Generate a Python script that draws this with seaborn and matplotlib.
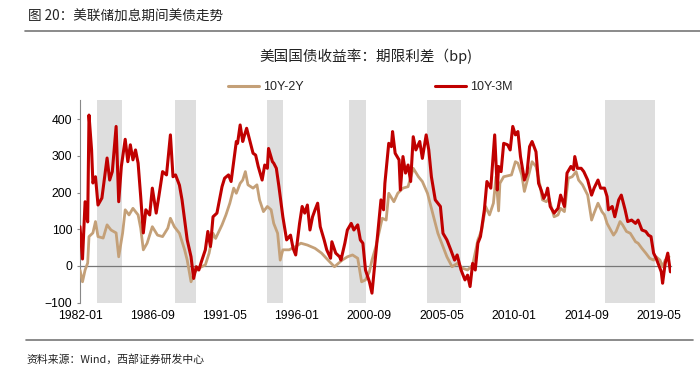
import pandas as pd
import matplotlib
matplotlib.use("Agg")
import matplotlib.pyplot as plt
import seaborn as sns

# 10Y-2Y spread (bp)
s2y_dates = ["1982-01", "1982-03", "1982-05", "1982-07", "1982-08", "1982-11", "1983-01", "1983-03",
             "1983-07", "1983-10", "1984-01", "1984-05", "1984-07", "1984-10", "1984-12", "1985-03",
             "1985-06", "1985-10", "1985-12", "1986-02", "1986-05", "1986-09", "1987-01", "1987-05",
             "1987-09", "1987-11", "1988-02", "1988-06", "1988-10", "1988-12", "1989-03", "1989-06",
             "1989-09", "1990-02", "1990-05", "1990-08", "1990-10", "1991-03", "1991-06", "1991-09",
             "1991-12", "1992-02", "1992-05", "1992-07", "1992-09", "1992-11", "1993-03", "1993-06",
             "1993-08", "1993-11", "1994-02", "1994-05", "1994-07", "1994-10", "1994-12", "1995-02",
             "1995-07", "1995-12", "1996-04", "1996-09", "1997-03", "1997-08", "1998-01", "1998-06",
             "1998-09", "1998-12", "1999-04", "1999-08", "1999-12", "2000-03", "2000-06", "2000-09",
             "2000-11", "2001-02", "2001-05", "2001-07", "2001-10", "2001-12", "2002-04", "2002-07",
             "2002-11", "2003-03", "2003-07", "2003-11", "2004-02", "2004-06", "2004-10", "2005-02",
             "2005-06", "2005-09", "2006-01", "2006-05", "2006-09", "2007-01", "2007-05", "2007-09",
             "2007-12", "2008-03", "2008-06", "2008-09", "2008-11", "2009-01", "2009-02", "2009-05",
             "2009-11", "2010-02", "2010-04", "2010-07", "2010-09", "2010-12", "2011-03", "2011-06",
             "2011-09", "2011-11", "2012-02", "2012-04", "2012-08", "2012-11", "2013-01", "2013-04",
             "2013-07", "2013-10", "2014-01", "2014-03", "2014-06", "2014-10", "2015-01", "2015-03",
             "2015-06", "2015-09", "2015-11", "2016-01", "2016-03", "2016-06", "2016-08", "2016-11",
             "2017-01", "2017-04", "2017-07", "2017-11", "2018-01", "2018-04", "2018-07", "2018-10",
             "2019-01", "2019-03", "2019-06", "2019-08", "2019-10", "2020-01"]
s2y_vals = [-11, -43, -11, 8, 80, 90, 121, 80,
            76, 112, 98, 90, 25, 90, 153, 139,
            157, 139, 103, 44, 62, 107, 84, 80,
            103, 130, 107, 89, 44, 16, -43, -16,
            -6, 3, 35, 89, 75, 112, 139, 171,
            212, 198, 225, 234, 257, 221, 212, 221,
            180, 148, 162, 153, 116, 89, 16, 44,
            44, 53, 62, 57, 48, 35, 16, -2,
            7, 16, 25, 30, 21, -43, -38, -16,
            16, 53, 98, 130, 125, 198, 175, 198,
            212, 216, 266, 243, 230, 198, 144, 89,
            53, 25, -2, 7, -6, -11, 3, 71,
            98, 162, 139, 171, 243, 150, 225, 243,
            248, 284, 280, 248, 203, 243, 284, 271,
            221, 180, 175, 184, 134, 139, 157, 148,
            239, 243, 257, 234, 221, 193, 125, 144,
            171, 148, 139, 116, 103, 84, 94, 121,
            112, 94, 89, 66, 62, 48, 35, 21,
            16, 25, 16, -2, 16, 25]

# 10Y-3M spread (bp)
s3m_dates = ["1982-01", "1982-03", "1982-05", "1982-07", "1982-08", "1982-10", "1982-11", "1983-01",
             "1983-03", "1983-06", "1983-08", "1983-10", "1983-12", "1984-02", "1984-05", "1984-07",
             "1984-09", "1984-12", "1985-02", "1985-04", "1985-06", "1985-08", "1985-10", "1985-12",
             "1986-02", "1986-04", "1986-07", "1986-09", "1986-12", "1987-02", "1987-05", "1987-08",
             "1987-11", "1988-01", "1988-03", "1988-06", "1988-08", "1988-11", "1988-12", "1989-03",
             "1989-05", "1989-07", "1989-09", "1989-11", "1990-02", "1990-04", "1990-06", "1990-08",
             "1990-11", "1991-01", "1991-03", "1991-05", "1991-08", "1991-10", "1991-12", "1992-02",
             "1992-03", "1992-05", "1992-07", "1992-08", "1992-10", "1992-12", "1993-03", "1993-05",
             "1993-07", "1993-10", "1993-12", "1994-02", "1994-03", "1994-06", "1994-07", "1994-09",
             "1994-11", "1995-02", "1995-05", "1995-07", "1995-08", "1995-10", "1995-12", "1996-03",
             "1996-05", "1996-07", "1996-09", "1996-11", "1997-01", "1997-03", "1997-05", "1997-07",
             "1997-10", "1997-12", "1998-03", "1998-04", "1998-07", "1998-10", "1998-11", "1999-02",
             "1999-04", "1999-07", "1999-09", "1999-12", "2000-02", "2000-04", "2000-06", "2000-09",
             "2000-11", "2001-01", "2001-04", "2001-06", "2001-08", "2001-09", "2001-12", "2002-02",
             "2002-03", "2002-05", "2002-08", "2002-09", "2002-11", "2003-01", "2003-03", "2003-05",
             "2003-07", "2003-09", "2003-12", "2004-02", "2004-05", "2004-07", "2004-09", "2004-12",
             "2005-04", "2005-06", "2005-09", "2005-12", "2006-03", "2006-05", "2006-08", "2006-11",
             "2007-01", "2007-03", "2007-05", "2007-07", "2007-09", "2007-11", "2008-02", "2008-04",
             "2008-07", "2008-10", "2008-12", "2009-01", "2009-03", "2009-05", "2009-08", "2009-10",
             "2009-12", "2010-02", "2010-04", "2010-06", "2010-09", "2010-11", "2011-01", "2011-03",
             "2011-06", "2011-08", "2011-10", "2011-12", "2012-02", "2012-03", "2012-05", "2012-08",
             "2012-11", "2013-01", "2013-04", "2013-06", "2013-09", "2013-11", "2013-12", "2014-02",
             "2014-05", "2014-07", "2014-10", "2015-01", "2015-03", "2015-06", "2015-08", "2015-11",
             "2016-01", "2016-02", "2016-05", "2016-07", "2016-10", "2016-12", "2017-03", "2017-05",
             "2017-08", "2017-11", "2018-01", "2018-04", "2018-07", "2018-09", "2018-11", "2019-01",
             "2019-03", "2019-05", "2019-07", "2019-08", "2019-10", "2019-12", "2020-02"]
s3m_vals = [107, 19, 175, 120, 411, 316, 226, 243,
            166, 185, 240, 294, 234, 257, 380, 175,
            271, 345, 284, 330, 289, 316, 280, 189,
            90, 153, 139, 212, 144, 189, 257, 248,
            357, 243, 248, 220, 180, 98, 71, 25,
            -34, -2, -11, 12, 44, 94, 53, 134,
            144, 180, 216, 239, 248, 230, 284, 339,
            334, 384, 339, 352, 375, 348, 307, 302,
            271, 234, 275, 266, 320, 284, 280, 266,
            216, 134, 71, 80, 84, 48, 30, 116,
            162, 144, 166, 98, 134, 153, 171, 107,
            71, 44, 21, 66, 35, 25, 16, 62,
            98, 116, 98, 112, 71, 62, -11, -43,
            -74, -2, 107, 180, 153, 225, 334, 325,
            366, 307, 289, 207, 298, 253, 275, 230,
            352, 316, 339, 293, 357, 316, 243, 180,
            162, 89, 71, 44, 16, 30, -11, -38,
            -25, -56, 7, -11, 62, 80, 153, 230,
            212, 357, 207, 271, 257, 334, 330, 316,
            380, 357, 366, 298, 234, 253, 325, 339,
            311, 225, 207, 184, 198, 212, 162, 144,
            157, 193, 162, 253, 271, 262, 298, 266,
            266, 257, 234, 193, 212, 234, 212, 212,
            189, 153, 162, 134, 180, 193, 153, 121,
            125, 116, 125, 98, 94, 84, 80, 35,
            21, 3, -16, -47, 7, 35, -16]

# Fed hiking cycles (shaded)
hike_start = ["1983-02-01", "1988-02-15", "1994-01-15", "1999-05-15", "2004-05-15", "2015-11-15"]
hike_end = ["1984-09-15", "1989-06-15", "1995-02-15", "2000-06-20", "2006-07-20", "2019-02-01"]

tick_labels = ["1982-01", "1986-09", "1991-05", "1996-01", "2000-09",
               "2005-05", "2010-01", "2014-09", "2019-05"]

df = pd.concat([
    pd.DataFrame({"date": pd.to_datetime(s2y_dates), "value": s2y_vals, "series": "10Y-2Y"}),
    pd.DataFrame({"date": pd.to_datetime(s3m_dates), "value": s3m_vals, "series": "10Y-3M"}),
])

sns.set_style("white")
plt.rcParams["font.family"] = ["Liberation Sans", "Noto Sans CJK SC", "DejaVu Sans"]
cjk = ["Noto Sans CJK SC", "DejaVu Sans"]

fig = plt.figure(figsize=(7, 3.74), dpi=100)
ax = fig.add_axes([80 / 700, 1 - 302.7 / 374, 591 / 700, 202.7 / 374])

for a, b in zip(hike_start, hike_end):
    ax.axvspan(pd.Timestamp(a), pd.Timestamp(b), color="#dedede", lw=0, zorder=0)

sns.lineplot(data=df, x="date", y="value", hue="series",
             palette={"10Y-2Y": "#c4a078", "10Y-3M": "#c00000"},
             linewidth=2.0, ax=ax, legend=False, zorder=3)
ax.lines[-1].set_linewidth(2.2)

ax.set_xlim(pd.Timestamp("1982-01-01"), pd.Timestamp("2020-02-15"))
ax.set_ylim(-100, 452)
ax.set_yticks([-100, 0, 100, 200, 300, 400])
ax.set_xticks(pd.to_datetime(tick_labels))
ax.set_xticklabels(tick_labels)
ax.set_xlabel("")
ax.set_ylabel("")

for s in ["top", "right"]:
    ax.spines[s].set_visible(False)
ax.spines["left"].set_color("#888888")
ax.spines["left"].set_linewidth(0.8)
ax.spines["bottom"].set_position(("data", 0))
ax.spines["bottom"].set_color("#777777")
ax.spines["bottom"].set_linewidth(0.9)
ax.spines["bottom"].set_zorder(2)
ax.tick_params(axis="x", direction="in", length=3, color="#888888", pad=32,
               labelsize=8.7, labelcolor="black")
ax.tick_params(axis="y", direction="out", length=2.5, color="#888888", pad=3,
               labelsize=8.7, labelcolor="black", left=True)

h2y = plt.Line2D([], [], color="#c4a078", lw=2.2)
h3m = plt.Line2D([], [], color="#c00000", lw=2.2)
fig.legend([h2y, h3m], ["10Y-2Y", "10Y-3M"], loc="center", ncol=2,
           bbox_to_anchor=(370 / 700, 1 - 87 / 374), frameon=False,
           fontsize=9, handlelength=2.5, handletextpad=0.3, columnspacing=10.5)

fig.text(366 / 700, 1 - 56 / 374, "美国国债收益率：期限利差（bp)", ha="center", va="center",
         fontsize=10.5, family=cjk, color="#222222")
fig.text(28 / 700, 1 - 17 / 374, "图 20：美联储加息期间美债走势", ha="left", va="center",
         fontsize=9.8, family=cjk, color="#222222")
fig.text(26 / 700, 1 - 359 / 374, "资料来源：Wind，西部证券研发中心", ha="left", va="center",
         fontsize=7.8, family=cjk, color="#222222")

fig.add_artist(plt.Line2D([25 / 700, 1.0], [1 - 31 / 374] * 2, color="#777777", lw=1.2))
fig.add_artist(plt.Line2D([26 / 700, 693 / 700], [1 - 340 / 374] * 2, color="#777777", lw=1.2))

fig.savefig("out.png", dpi=100)
